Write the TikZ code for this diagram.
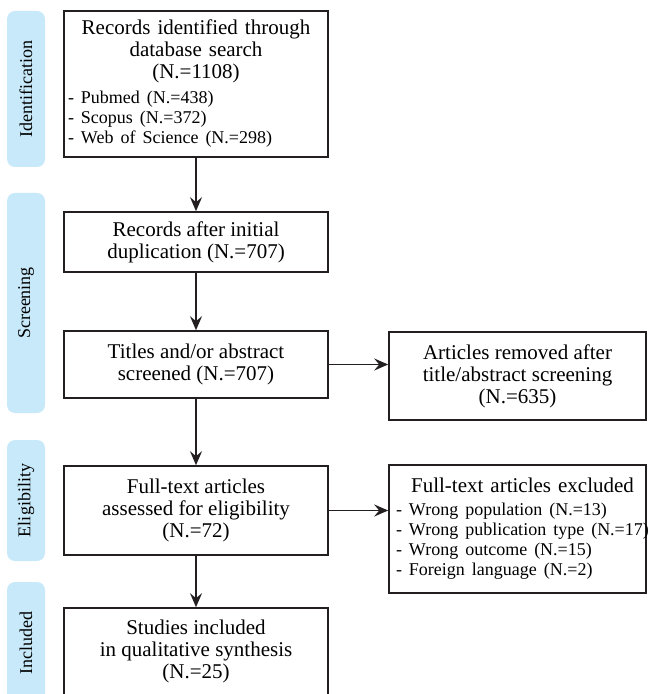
\documentclass[tikz,border=0pt]{standalone}
\usepackage{fontspec}
\setmainfont{Liberation Serif}
\usetikzlibrary{arrows.meta}
\definecolor{stagefill}{RGB}{199,233,249}
\definecolor{boxline}{RGB}{35,31,32}

\begin{document}
\begin{tikzpicture}[x=0.5pt,y=-0.5pt,
  flowbox/.style={draw=boxline, line width=0.8pt, minimum width=132pt, inner sep=0pt,
    align=center, font=\fontsize{10.5}{11}\selectfont},
  stage/.style={fill=stagefill, rounded corners=4pt, minimum height=19pt, inner sep=0pt,
    rotate=90, font=\fontsize{9}{10}\selectfont},
  flowarrow/.style={draw=boxline, line width=0.8pt, -{Stealth[length=7pt,width=6pt,inset=2.5pt]}}]

\useasboundingbox (0,0) rectangle (647,694);
\clip (0,0) rectangle (647,694);

% stage labels
\node[stage, minimum width=78pt] (sident) at (26,89) {Identification};
\node[stage, minimum width=110pt] (sscreen) at (26,303) {Screening};
\node[stage, minimum width=60.5pt] (selig) at (26,500.5) {Eligibility};
\node[stage, minimum width=61pt] (sincl) at (26,643) {Included};

% main column
\node[flowbox, minimum height=73pt, text width=128pt, inner xsep=2pt, align=left] (ident) at (196,84)
  {{\centering Records identified through\\database search\\(N.=1108)\par}
   \vspace{2.5pt}{\raggedright\fontsize{9}{10}\selectfont
   \mbox{- Pubmed (N.=438)}\\\mbox{- Scopus (N.=372)}\\\mbox{- Web of Science (N.=298)}\par}};
\node[flowbox, minimum height=30pt] (dup) at (196,242) {Records after initial\\duplication (N.=707)};
\node[flowbox, minimum height=33.5pt] (screen) at (196,364.5) {Titles and/or abstract\\screened (N.=707)};
\node[flowbox, minimum height=44.5pt] (elig) at (196,510.5) {Full-text articles\\assessed for eligibility\\(N.=72)};
\node[flowbox, minimum height=43.5pt] (incl) at (196,651.5) {Studies included\\in qualitative synthesis\\(N.=25)};

% side boxes
\node[flowbox, minimum width=128.5pt, minimum height=44pt] (removed) at (517.5,376)
  {Articles removed after\\title/abstract screening\\(N.=635)};
\node[flowbox, minimum width=128.5pt, minimum height=64pt, text width=121.5pt, inner xsep=3.5pt, align=left] (excl) at (517.5,529)
  {{\centering\hspace*{5pt}Full-text articles excluded\par}
   \vspace{1.5pt}{\raggedright\fontsize{9}{10}\selectfont
   \mbox{- Wrong population (N.=13)}\\\mbox{- Wrong publication type (N.=17)}\\
   \mbox{- Wrong outcome (N.=15)}\\\mbox{- Foreign language (N.=2)}\par}};

% arrows
\draw[flowarrow] (ident) -- (dup);
\draw[flowarrow] (dup) -- (screen);
\draw[flowarrow] (screen) -- (elig);
\draw[flowarrow] (elig) -- (incl);
\draw[flowarrow] (screen.east) -- (screen.east -| removed.west);
\draw[flowarrow] (elig.east) -- (elig.east -| excl.west);

\end{tikzpicture}
\end{document}
